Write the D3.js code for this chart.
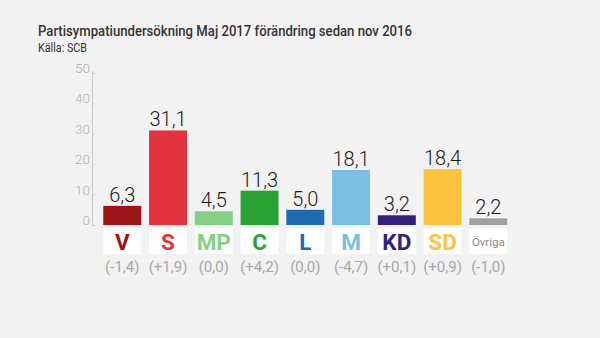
<!DOCTYPE html>
<html><head><meta charset="utf-8">
<script src="https://cdn.jsdelivr.net/npm/d3@7"></script>
<style>html,body{margin:0;padding:0;background:#f2f2f2;}svg{display:block;}</style>
</head><body>
<script>
const parties = ["V","S","MP","C","L","M","KD","SD","Övriga"];
const values = [6.3,31.1,4.5,11.3,5.0,18.1,3.2,18.4,2.2];
const changes = ["(-1,4)","(+1,9)","(0,0)","(+4,2)","(0,0)","(-4,7)","(+0,1)","(+0,9)","(-1,0)"];
const colors = ["#9b1518","#e1323f","#83cf86","#2aa233","#1f6bb0","#7bbfe4","#34217b","#fdc441","#a0a0a0"];
const yTicks = [0,10,20,30,40,50];
const fmt = v => v.toFixed(1).replace(".", ",");

const W=600,H=338;
const svg=d3.select("body").append("svg").attr("width",W).attr("height",H);
svg.append("rect").attr("width",W).attr("height",H).attr("fill","#f2f2f2");

const font="Roboto, 'Open Sans', sans-serif";
svg.append("text").attr("x",38).attr("y",36).attr("font-family",font).attr("font-weight",500)
  .attr("font-size",14.5).attr("fill","#333")
  .attr("textLength",374).attr("lengthAdjust","spacingAndGlyphs")
  .text("Partisympatiundersökning Maj 2017 förändring sedan nov 2016");
svg.append("text").attr("x",38).attr("y",52).attr("font-family",font)
  .attr("font-size",12).attr("fill","#333")
  .attr("textLength",49).attr("lengthAdjust","spacingAndGlyphs").text("Källa: SCB");

const x=d3.scaleBand().domain(parties).range([99.4,511.2]).paddingInner(0.17).paddingOuter(0.085);
const y=d3.scaleLinear().domain([0,50]).range([225,73]);

// axis
const ax=svg.append("g");
ax.append("line").attr("x1",92.5).attr("x2",92.5).attr("y1",71).attr("y2",226).attr("stroke","#c8c8c8").attr("stroke-width",1);
ax.selectAll("line.t").data(yTicks).join("line").attr("class","t")
  .attr("x1",92.5).attr("x2",95).attr("y1",d=>y(d)+0.5).attr("y2",d=>y(d)+0.5).attr("stroke","#c8c8c8");
ax.selectAll("text").data(yTicks).join("text")
  .attr("x",90).attr("y",d=>y(d)).attr("text-anchor","end")
  .attr("font-family",font).attr("font-weight",300).attr("font-size",13.5).attr("fill","#b0b0b0").text(d=>d);

const g=svg.append("g");
g.selectAll("rect.bar").data(parties).join("rect").attr("class","bar")
  .attr("x",d=>x(d)).attr("width",x.bandwidth())
  .attr("y",(d,i)=>y(values[i])).attr("height",(d,i)=>y(0)-y(values[i]))
  .attr("fill",(d,i)=>colors[i]);
g.selectAll("text.val").data(parties).join("text").attr("class","val")
  .attr("x",d=>x(d)+x.bandwidth()/2).attr("y",(d,i)=>y(values[i])-4)
  .attr("text-anchor","middle").attr("font-family",font).attr("font-weight",300)
  .attr("font-size",20).attr("fill","#1a1a1a").text((d,i)=>fmt(values[i]));

g.selectAll("rect.box").data(parties).join("rect").attr("class","box")
  .attr("x",d=>x(d)).attr("width",x.bandwidth()).attr("y",228).attr("height",26).attr("fill","#fff");
g.selectAll("text.lab").data(parties).join("text").attr("class","lab")
  .attr("x",d=>x(d)+x.bandwidth()/2).attr("y",d=>d==="Övriga"?246:250)
  .attr("text-anchor","middle").attr("font-family",font)
  .attr("font-weight",d=>d==="Övriga"?400:700)
  .attr("font-size",d=>d==="Övriga"?11.5:22.5)
  .attr("fill",(d,i)=>d==="Övriga"?"#888":colors[i]).text(d=>d);
g.selectAll("text.chg").data(parties).join("text").attr("class","chg")
  .attr("x",d=>x(d)+x.bandwidth()/2).attr("y",271.5)
  .attr("text-anchor","middle").attr("font-family",font).attr("font-weight",400)
  .attr("font-size",15).attr("fill","#a8a8a8").text((d,i)=>changes[i]);
</script>
</body></html>
